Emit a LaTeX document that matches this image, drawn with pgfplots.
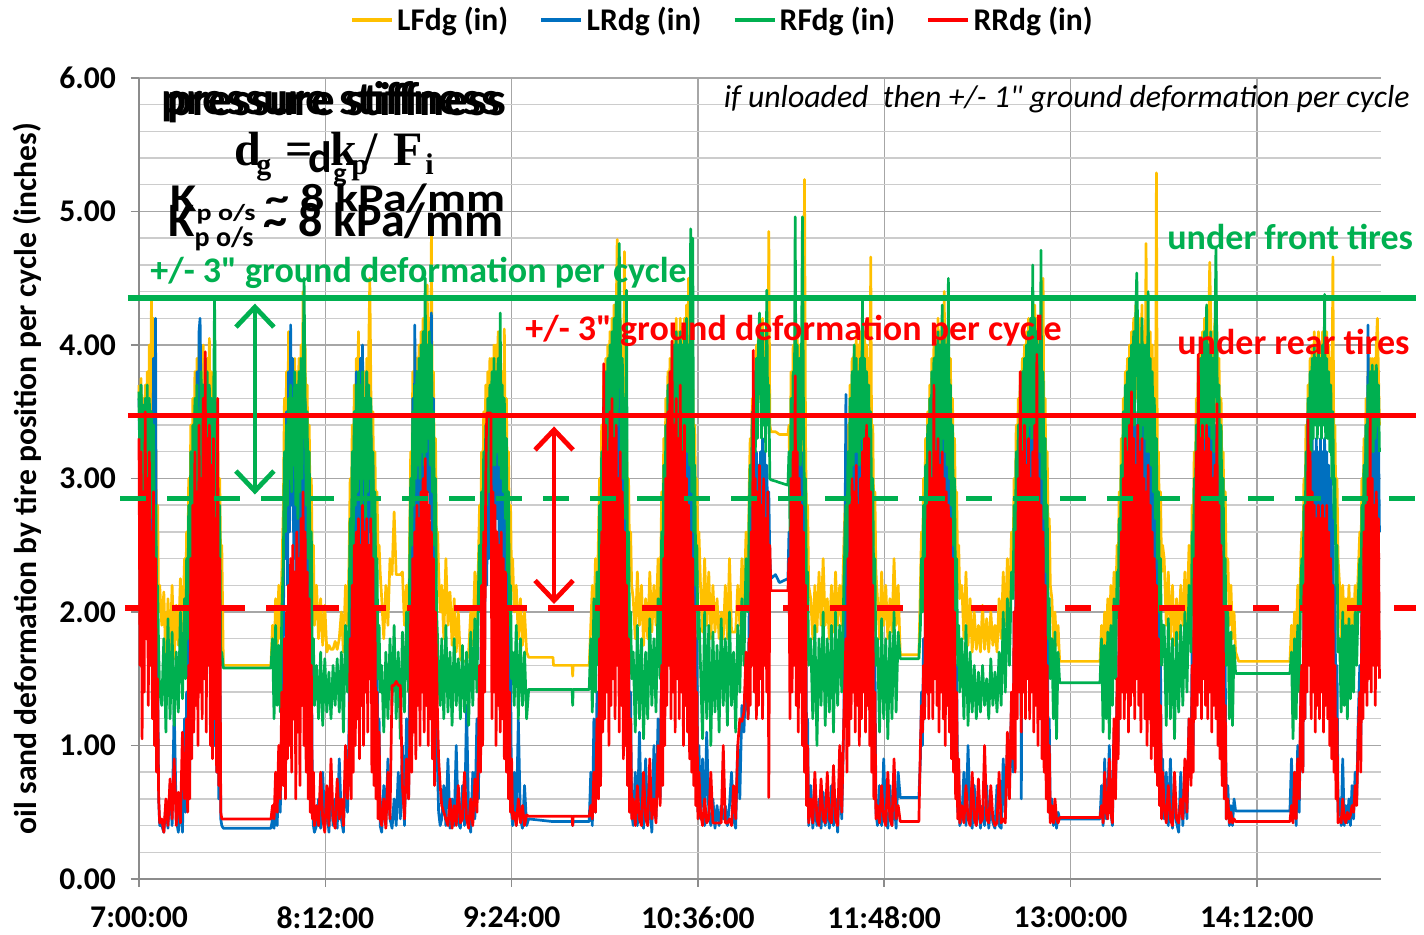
\documentclass[border=0pt]{standalone}
\usepackage{pgfplots}
\pgfplotsset{compat=1.18}
\usepackage{pgfplotstable}
\usepackage{fontspec}
\setmainfont{Carlito}[Ligatures=TeXOff]
\newfontfamily\serif{Liberation Serif}[Ligatures=TeXOff]
\usetikzlibrary{arrows.meta}

\definecolor{cLF}{HTML}{FFC000}
\definecolor{cLR}{HTML}{0070C0}
\definecolor{cRF}{HTML}{00B050}
\definecolor{cRR}{HTML}{FF0000}

% minutes after 7:00:00, ground deformation per tire (inches)
\pgfplotstableread{
t LF LR RF RR
0.0 3.70 3.60 3.65 3.30
0.4 3.10 2.90 3.00 1.60
0.8 3.75 3.70 3.70 3.20
1.2 2.90 2.40 2.80 1.05
1.6 3.60 3.50 3.55 2.90
2.0 3.00 2.60 2.70 1.40
2.4 3.70 3.40 3.60 3.50
2.8 3.20 2.80 3.10 1.80
3.2 3.80 3.60 3.70 3.00
3.6 3.10 2.50 2.90 1.30
4.0 4.00 3.30 3.60 3.20
4.4 3.00 2.40 2.80 1.60
4.8 4.35 3.50 3.50 2.60
5.2 3.20 2.00 2.70 1.20
5.6 4.20 3.90 3.40 2.90
6.0 2.80 1.80 2.40 1.00
6.4 3.60 4.20 2.80 2.40
6.8 2.40 1.20 2.00 0.80
7.2 2.80 1.60 2.20 1.50
7.6 2.00 0.60 1.70 0.60
8.0 2.20 0.40 1.40 0.42
8.8 1.90 0.40 1.30 0.45
9.6 2.15 0.35 1.80 0.35
10.4 1.60 0.55 1.10 0.60
11.2 2.10 0.38 1.95 0.40
12.0 1.70 0.70 1.20 0.75
12.8 2.20 0.40 1.85 0.45
13.6 1.65 1.30 1.15 0.90
14.4 2.05 0.45 1.70 0.40
15.2 1.75 0.35 1.25 0.65
16.0 2.25 0.60 2.00 0.42
16.8 1.80 0.35 1.35 1.10
17.6 2.40 1.20 2.10 0.60
18.0 2.00 0.50 1.50 0.70
18.4 2.60 1.40 2.40 1.20
18.8 2.20 0.60 1.80 0.50
19.2 3.00 2.00 2.80 1.60
19.6 2.40 0.80 2.00 0.60
20.0 3.40 2.60 3.20 2.40
20.4 2.60 1.00 2.20 0.90
20.8 3.60 3.00 3.40 2.80
21.2 2.80 1.40 2.40 1.10
21.6 3.80 3.50 3.60 3.20
22.0 3.00 1.60 2.60 1.30
22.4 3.90 3.80 3.70 2.90
22.8 3.10 2.00 2.80 1.00
23.2 4.00 4.10 3.50 3.40
23.6 3.20 4.20 2.90 1.40
24.0 3.90 3.60 3.80 3.00
24.4 3.00 1.80 2.60 1.20
24.8 4.00 3.70 3.70 3.60
25.2 3.20 2.00 2.90 1.50
25.6 3.80 3.90 3.60 3.95
26.0 2.90 1.60 2.50 1.10
26.4 3.90 3.60 3.80 3.30
26.8 3.10 1.80 2.70 1.60
27.2 4.05 3.50 3.70 3.40
27.6 3.00 1.40 2.60 1.00
28.0 3.80 3.40 3.60 3.10
28.4 2.90 1.20 2.40 0.90
28.8 3.70 3.20 3.50 3.30
29.2 2.80 1.00 4.35 1.20
29.6 3.60 3.00 3.40 2.70
30.0 2.70 0.80 2.30 0.80
30.4 3.40 2.60 3.20 3.60
30.8 2.50 0.60 2.00 0.70
31.2 3.00 2.00 2.80 2.40
31.6 2.30 0.45 1.60 0.50
32.0 2.50 0.40 1.70 0.45
32.6 1.60 0.38 1.58 0.45
51.0 1.60 0.38 1.58 0.45
51.6 1.90 0.45 1.80 0.55
52.2 1.60 0.38 1.20 0.45
52.8 2.10 0.60 1.90 0.80
53.4 1.70 0.40 1.30 0.50
54.0 2.20 0.80 1.75 1.00
54.6 1.80 0.50 1.25 0.60
55.2 2.30 1.20 2.00 1.40
55.8 2.80 1.80 2.40 0.70
56.2 3.60 3.00 3.20 1.80
56.6 2.90 2.40 2.60 0.60
57.0 3.80 3.50 3.40 2.00
57.4 3.00 2.20 2.80 0.90
57.8 4.10 3.80 3.60 2.20
58.2 3.20 2.60 3.00 1.00
58.6 3.90 4.15 3.70 2.40
59.0 3.10 2.80 2.90 0.80
59.4 3.80 3.90 3.60 2.50
59.8 3.30 2.40 3.10 1.20
60.2 3.90 3.60 3.80 2.30
60.6 3.20 2.10 2.80 0.60
61.0 3.80 3.40 3.70 2.60
61.4 3.00 2.00 2.70 1.10
61.8 3.90 3.70 3.80 2.40
62.2 3.10 2.30 2.90 0.70
62.6 4.00 3.80 3.90 2.70
63.0 3.20 2.50 3.00 1.30
63.4 4.40 3.90 3.80 2.90
63.8 3.30 2.40 4.50 1.00
64.2 4.00 3.60 3.60 2.60
64.6 3.10 2.00 2.80 0.80
65.0 3.70 3.30 3.50 2.30
65.4 2.90 1.60 2.40 0.60
65.8 3.40 2.80 3.20 2.10
66.2 2.60 1.10 2.00 0.50
66.6 3.00 2.00 2.60 1.60
67.0 2.30 0.60 1.60 0.45
67.4 2.50 0.40 1.80 0.80
67.8 1.90 0.35 1.30 0.40
68.6 2.20 0.40 1.60 0.55
69.4 1.80 0.60 1.20 0.40
70.2 2.10 0.38 1.70 0.80
71.0 1.75 0.80 1.15 0.45
71.8 2.05 0.40 1.65 0.35
72.6 1.70 0.55 1.25 0.70
73.4 1.75 0.35 1.55 0.40
74.2 1.72 0.70 1.20 0.90
75.0 1.72 0.40 1.60 0.45
75.8 1.78 0.60 1.30 0.38
76.6 1.72 0.38 1.65 0.75
77.4 1.80 0.90 1.25 0.45
78.2 2.00 0.45 1.70 0.60
79.0 1.70 0.35 1.10 0.40
79.8 2.20 0.80 1.90 1.00
80.6 1.90 0.50 1.40 0.60
81.2 2.40 1.20 2.00 0.90
81.6 3.00 2.20 2.70 1.80
82.0 2.50 1.00 2.20 0.60
82.4 3.40 3.00 3.20 2.20
82.8 2.80 1.60 2.50 0.80
83.2 3.70 3.50 3.50 2.50
83.6 3.00 2.00 2.80 1.00
84.0 3.90 3.80 3.70 2.60
84.4 3.10 2.40 2.90 1.20
84.8 4.10 3.70 3.80 2.70
85.2 3.20 2.60 3.00 0.90
85.6 3.80 3.90 3.70 2.50
86.0 3.00 2.20 2.80 1.30
86.4 3.90 4.00 3.80 2.80
86.8 3.20 2.50 3.00 1.00
87.2 3.80 3.60 3.60 2.60
87.6 3.00 2.10 2.70 1.40
88.0 3.90 3.80 3.80 2.70
88.4 3.10 2.30 2.90 1.10
88.8 4.00 3.50 3.70 2.50
89.2 4.50 2.60 3.00 1.50
89.6 3.70 3.40 3.60 2.70
90.0 2.90 2.00 2.60 0.80
90.4 3.50 3.10 3.20 2.40
90.8 2.70 1.60 2.30 0.70
91.2 3.20 2.60 2.90 2.00
91.6 2.50 1.00 1.90 0.60
92.0 2.90 1.80 2.40 1.40
92.4 2.40 0.60 1.50 0.45
92.8 2.50 1.20 1.90 1.10
93.2 2.30 0.40 1.40 0.45
93.8 2.10 0.35 1.60 0.40
94.6 1.80 0.70 1.10 0.60
95.4 2.20 0.40 1.70 0.38
96.2 1.90 0.90 1.20 0.80
97.0 2.40 0.45 1.80 0.45
97.8 2.28 0.38 1.30 1.45
98.6 2.75 0.60 1.90 1.45
99.4 2.28 0.40 1.20 1.48
100.2 2.28 0.80 1.70 1.45
101.0 2.28 0.45 1.05 1.45
101.8 2.30 1.00 1.85 0.70
102.6 1.90 0.40 1.25 0.45
103.4 2.20 1.20 2.00 0.90
104.2 1.90 0.60 1.40 0.60
104.6 2.60 1.60 2.30 1.00
105.0 3.20 2.80 3.00 2.00
105.4 2.80 1.40 2.50 0.80
105.8 3.80 3.60 3.50 2.40
106.2 3.00 2.20 2.80 1.10
106.6 4.00 4.15 3.70 2.60
107.0 3.20 2.60 3.00 0.90
107.4 3.90 3.80 3.80 2.80
107.8 3.30 2.40 3.10 1.30
108.2 4.00 3.60 3.90 2.70
108.6 3.20 2.70 3.00 1.00
109.0 4.10 3.90 4.00 2.90
109.4 3.40 2.60 3.20 1.40
109.8 4.20 3.80 4.10 3.00
110.2 3.30 2.80 3.10 1.10
110.6 4.10 3.70 4.50 3.15
111.0 3.40 2.50 3.20 1.30
111.4 4.45 3.90 4.00 2.90
111.8 3.50 2.90 3.30 1.00
112.2 4.20 4.00 4.10 2.80
112.6 3.40 2.70 3.10 1.20
113.0 4.83 4.24 4.00 2.60
113.4 3.20 2.40 2.90 0.90
113.8 3.80 3.60 3.50 2.40
114.2 2.90 1.80 2.50 0.70
114.6 3.30 2.80 3.00 2.00
115.0 2.50 1.00 2.00 1.60
115.4 2.60 0.80 1.80 1.20
115.8 2.30 0.50 1.50 0.90
116.4 2.00 0.40 1.30 0.70
117.0 2.20 0.45 1.80 0.55
117.8 1.80 0.70 1.20 0.50
118.6 2.40 0.40 1.90 0.45
119.4 1.90 0.90 1.25 0.40
120.2 2.15 0.38 1.70 0.60
121.0 1.75 0.60 1.15 0.38
121.8 2.10 0.40 1.80 0.55
122.6 1.70 1.00 1.30 0.40
123.4 2.00 0.42 1.65 0.70
124.2 1.65 0.38 1.20 0.42
125.0 1.63 0.70 1.75 0.45
125.8 1.63 0.40 1.25 0.80
126.6 1.63 1.30 1.70 0.45
127.4 1.70 0.45 1.15 0.38
128.2 2.00 0.35 1.85 0.60
129.0 1.75 0.80 1.30 0.40
129.8 2.30 0.45 1.95 0.75
130.6 1.90 1.20 1.40 0.50
131.2 2.40 0.60 2.20 1.00
131.6 2.80 1.60 2.50 1.60
132.0 2.40 1.00 2.00 0.80
132.4 3.20 2.40 2.90 2.20
132.8 2.60 1.40 2.30 1.00
133.2 3.50 3.00 3.20 2.60
133.6 2.90 1.80 2.60 1.40
134.0 3.70 3.20 3.40 3.00
134.4 3.00 2.20 2.80 3.49
134.8 3.80 3.40 3.60 3.49
135.2 3.10 2.40 2.90 3.49
135.6 3.90 3.50 3.70 3.49
136.0 3.20 2.60 3.00 3.49
136.4 3.90 3.60 3.80 1.20
136.8 3.30 2.50 3.10 2.90
137.2 4.00 3.70 3.90 1.40
137.6 3.30 2.60 3.10 2.80
138.0 4.00 3.60 3.80 1.00
138.4 3.40 2.70 3.20 2.60
138.8 4.10 3.80 3.90 1.30
139.2 3.40 2.50 3.10 2.50
139.6 3.90 3.70 4.24 1.10
140.0 3.20 2.40 3.00 2.60
140.4 3.80 3.50 3.70 1.20
140.8 3.10 2.20 2.90 2.40
141.2 4.12 3.40 3.60 0.90
141.6 3.00 2.00 2.70 2.30
142.0 3.60 3.10 3.30 0.80
142.4 2.80 1.60 2.30 2.00
142.8 3.20 2.60 2.90 0.60
143.2 2.50 1.00 1.90 1.40
143.6 2.80 1.60 2.20 0.50
144.0 2.20 0.50 1.50 0.90
144.4 2.40 0.40 1.70 0.45
145.0 2.00 0.80 1.30 0.50
145.8 2.20 0.40 1.90 0.40
146.6 1.80 1.20 1.20 0.60
147.4 2.10 0.45 1.80 0.42
148.2 1.75 0.38 1.30 0.55
149.0 2.00 0.70 1.70 0.40
149.8 1.70 0.40 1.20 0.48
150.6 1.66 0.45 1.42 0.47
160.0 1.66 0.43 1.42 0.47
160.2 1.60 0.43 1.42 0.47
167.4 1.60 0.43 1.42 0.47
167.6 1.52 0.40 1.30 0.40
167.8 1.60 0.43 1.42 0.47
174.0 1.60 0.43 1.42 0.47
174.6 1.90 0.80 1.80 0.55
175.2 2.20 0.40 1.25 0.45
175.8 1.80 1.20 2.10 0.80
176.4 2.40 0.50 1.40 0.50
177.0 2.00 1.40 2.30 1.20
177.6 2.60 0.70 1.60 0.60
178.0 3.00 2.00 2.80 1.80
178.4 2.60 1.20 2.30 0.70
178.8 3.40 2.80 3.20 2.60
179.2 2.90 1.60 2.60 1.10
179.6 3.80 3.20 3.60 3.86
180.0 3.10 2.00 2.80 1.20
180.4 3.90 3.40 3.80 3.40
180.8 3.20 2.20 3.00 1.40
181.2 4.00 3.50 3.90 3.20
181.6 3.30 2.40 3.10 1.00
182.0 4.10 3.60 4.00 3.50
182.4 3.40 2.50 3.20 1.30
182.8 4.20 3.70 4.10 3.60
183.2 3.50 2.60 3.30 1.50
183.6 4.30 3.50 4.20 3.30
184.0 3.60 2.40 3.30 1.20
184.4 4.20 3.80 4.35 3.40
184.8 4.79 2.60 3.40 1.60
185.2 4.10 3.60 4.00 3.00
185.6 3.50 2.50 4.76 1.10
186.0 4.20 3.70 4.10 3.20
186.4 3.40 2.30 3.20 1.30
186.8 4.00 3.40 3.90 2.90
187.2 3.20 2.00 3.00 0.90
187.6 4.70 3.10 3.60 2.60
188.0 3.00 1.80 2.70 1.00
188.4 3.40 2.60 4.41 2.20
188.8 2.70 1.20 2.20 0.70
189.2 3.00 2.00 2.60 1.80
189.6 2.40 0.80 1.80 0.50
190.0 2.60 1.40 2.00 1.20
190.4 2.20 0.50 1.50 0.45
191.0 2.10 0.40 1.70 0.60
191.8 1.80 0.80 1.10 0.40
192.6 2.30 0.40 1.90 0.70
193.4 1.90 1.10 1.20 0.45
194.2 2.20 0.45 1.80 0.40
195.0 1.75 0.38 1.05 0.80
195.8 2.10 0.90 1.70 0.45
196.6 1.80 0.40 1.20 0.40
197.4 2.30 0.60 1.95 0.90
198.2 1.85 0.35 1.30 0.45
199.0 2.20 1.00 1.80 0.60
199.8 1.90 0.45 1.25 0.42
200.6 2.40 1.20 2.10 1.00
201.4 2.00 0.60 1.50 0.55
202.0 2.90 1.80 2.60 1.60
202.4 2.50 1.00 2.20 0.70
202.8 3.30 2.60 3.10 2.40
203.2 2.80 1.40 2.50 1.00
203.6 3.60 3.00 3.40 3.00
204.0 3.00 2.00 2.80 1.30
204.4 3.80 3.40 3.70 3.50
204.8 3.20 2.40 3.00 1.60
205.2 3.90 3.60 3.80 3.80
205.6 3.30 2.60 3.10 1.20
206.0 4.00 3.70 3.90 4.03
206.4 3.40 2.40 3.20 1.40
206.8 4.10 3.80 4.00 3.40
207.2 3.50 2.60 3.30 1.10
207.6 4.20 3.70 4.10 3.60
208.0 3.50 2.50 3.30 1.50
208.4 4.10 3.90 4.00 3.30
208.8 3.40 2.40 3.20 1.20
209.2 4.20 3.80 4.10 3.70
209.6 3.50 2.60 3.30 1.40
210.0 4.10 3.70 4.00 3.20
210.4 3.40 2.40 3.20 1.00
210.8 4.20 3.60 4.10 3.40
211.2 3.60 2.50 3.40 1.30
211.6 4.30 3.80 4.20 3.00
212.0 3.50 2.30 3.20 1.10
212.4 4.50 3.60 4.00 2.80
212.8 3.40 2.20 3.10 0.90
213.2 4.20 3.40 4.87 2.60
213.6 3.20 2.00 2.90 0.80
214.0 3.80 3.20 4.80 2.40
214.4 3.00 1.60 2.60 0.70
214.8 3.40 2.60 3.10 2.00
215.2 2.70 1.00 2.20 0.55
215.6 3.00 1.80 2.50 1.40
216.0 2.40 0.50 1.80 0.45
216.4 2.60 1.00 2.00 0.80
217.0 2.20 0.45 1.60 0.50
217.8 1.85 0.90 1.05 0.40
218.6 2.40 0.40 2.00 0.60
219.4 1.90 1.10 1.20 0.42
220.2 2.30 0.50 1.90 0.45
221.0 1.80 0.40 1.00 0.80
221.8 2.20 0.60 1.85 0.42
222.6 1.85 0.38 1.25 0.42
223.4 2.10 0.55 1.75 0.42
224.2 1.80 0.40 1.10 0.42
225.0 2.00 0.55 1.95 0.42
225.8 1.80 0.45 1.30 1.00
226.6 2.20 0.55 1.80 0.42
227.4 1.80 0.40 1.15 0.42
228.2 2.40 0.55 2.00 0.45
229.0 1.85 0.80 1.30 0.40
229.8 1.85 0.45 1.70 0.70
230.6 1.85 0.38 1.10 0.45
231.4 2.20 1.00 1.90 1.00
232.2 1.90 0.60 1.40 1.20
233.0 2.40 1.30 2.10 1.18
233.8 2.00 1.10 1.60 1.25
234.6 2.60 1.60 2.40 1.70
235.4 2.30 1.20 2.00 1.20
235.8 2.90 2.00 2.70 1.80
236.2 3.30 3.00 3.10 1.30
236.6 3.00 2.40 2.80 2.60
237.0 3.60 3.10 3.50 1.60
237.4 3.20 2.50 3.00 3.96
237.8 3.90 3.00 3.80 1.40
238.2 3.40 2.60 3.20 3.00
238.6 4.00 3.20 3.90 1.20
239.0 3.50 2.70 3.30 2.90
239.4 4.10 3.10 4.00 1.30
239.8 3.60 2.80 4.24 3.10
240.2 4.10 3.20 3.90 1.50
240.6 3.50 2.70 3.30 2.80
241.0 4.20 3.30 4.10 1.20
241.4 3.60 2.80 3.40 3.00
241.8 4.10 3.20 3.90 1.60
242.2 3.50 2.60 3.20 2.70
242.6 4.00 3.10 4.41 1.40
243.0 3.60 2.70 3.40 2.90
243.4 4.85 2.90 3.70 0.61
243.8 3.40 2.40 3.00 2.50
244.2 3.35 2.25 2.99 2.16
246.0 3.35 2.28 2.98 2.16
247.5 3.33 2.22 2.97 2.16
250.8 3.33 2.25 2.95 2.16
251.2 3.40 2.60 3.20 2.40
251.6 2.90 1.80 2.60 1.20
252.0 3.80 3.20 3.60 3.00
252.4 3.20 2.20 3.00 1.40
252.8 4.00 3.40 3.80 3.20
253.2 3.40 2.40 3.20 1.60
253.6 4.20 3.50 4.96 3.77
254.0 3.50 2.50 3.30 1.30
254.4 4.10 3.40 4.00 3.20
254.8 3.40 2.30 3.20 1.10
255.2 4.00 3.30 3.90 3.00
255.6 3.30 2.20 3.10 1.40
256.0 3.90 3.20 3.80 2.80
256.4 3.20 2.00 4.96 1.00
256.8 3.70 3.00 3.50 2.60
257.2 5.24 1.60 2.80 0.80
257.6 3.30 2.40 3.00 2.20
258.0 2.60 1.00 2.10 0.55
258.4 2.80 1.20 2.30 1.00
258.8 2.20 0.40 1.60 0.42
259.6 2.10 0.70 1.80 0.60
260.4 1.80 0.38 1.20 0.42
261.2 2.20 0.55 1.90 0.80
262.0 1.85 0.40 1.00 0.45
262.8 2.30 0.60 1.80 0.40
263.6 1.90 0.38 1.30 0.75
264.4 2.40 0.65 2.00 0.45
265.2 1.90 0.40 1.15 0.42
266.0 2.10 0.55 1.80 0.80
266.8 1.80 0.38 1.25 0.45
267.6 2.20 0.70 1.90 0.42
268.4 1.85 0.40 1.10 0.85
269.2 2.30 0.60 2.00 0.45
270.0 1.90 0.35 1.30 0.40
270.8 2.20 0.80 1.90 1.00
271.6 1.90 0.45 1.40 0.50
272.4 2.50 1.20 2.20 1.20
273.2 3.00 3.63 2.80 1.80
273.6 2.60 1.60 2.40 0.80
274.0 3.40 2.80 3.20 2.40
274.4 2.90 1.80 2.70 1.00
274.8 3.70 3.20 3.60 2.80
275.2 3.10 2.20 2.90 1.20
275.6 3.90 3.40 3.80 3.00
276.0 3.30 2.40 3.10 1.40
276.4 4.00 3.50 4.00 2.90
276.8 3.40 2.60 3.20 1.10
277.2 4.10 3.40 3.90 3.10
277.6 3.40 2.50 3.20 1.30
278.0 4.00 3.30 3.80 2.80
278.4 3.30 2.40 3.10 1.00
278.8 4.10 3.40 3.90 3.00
279.2 3.40 2.60 3.30 1.20
279.6 4.00 3.30 4.33 3.20
280.0 3.30 2.40 3.10 1.40
280.4 4.10 3.50 3.90 3.30
280.8 3.40 2.50 3.20 1.10
281.2 4.00 3.40 3.80 3.40
281.6 3.30 2.30 3.00 1.30
282.0 3.90 3.20 3.70 3.30
282.4 3.20 2.10 2.90 1.00
282.8 4.66 3.00 3.50 2.90
283.2 3.00 1.80 2.60 0.80
283.6 3.40 2.60 3.00 2.20
284.0 2.60 1.00 2.00 0.60
284.4 2.90 1.80 2.40 1.40
284.8 2.30 0.50 1.60 0.45
285.4 2.10 0.40 1.80 0.55
286.2 1.80 0.70 1.10 0.42
287.0 2.30 0.40 1.95 0.70
287.8 1.90 0.90 1.20 0.45
288.6 2.20 0.45 1.80 0.40
289.4 1.80 0.38 1.05 0.80
290.2 2.10 0.70 1.85 0.45
291.0 1.85 0.40 1.20 0.40
291.8 2.40 0.60 2.00 0.90
292.6 1.90 0.38 1.25 0.45
293.4 2.20 0.80 1.85 0.55
294.2 1.68 0.61 1.65 0.43
301.4 1.68 0.61 1.65 0.43
302.0 2.20 0.90 1.90 1.00
302.4 2.60 1.40 2.40 1.30
302.8 2.30 1.00 2.00 1.10
303.2 3.00 1.80 2.80 1.60
303.6 2.60 1.20 2.30 1.20
304.0 3.30 2.40 3.10 2.40
304.4 2.90 1.60 2.60 1.40
304.8 3.50 2.80 3.40 2.80
305.2 3.00 2.00 2.80 1.20
305.6 3.70 3.00 3.60 3.20
306.0 3.20 2.20 3.00 1.40
306.4 3.90 3.30 3.80 3.00
306.8 3.30 2.40 3.10 1.20
307.2 4.00 3.40 3.90 3.70
307.6 3.40 2.60 3.20 1.50
308.0 4.10 3.50 4.00 3.20
308.4 3.50 2.70 3.30 1.30
308.8 4.20 3.60 4.10 3.30
309.2 3.50 2.60 3.30 1.10
309.6 4.10 3.40 4.00 3.10
310.0 3.40 2.50 3.20 1.40
310.4 4.20 3.50 4.30 3.20
310.8 3.50 2.60 3.30 1.20
311.2 4.40 3.60 4.10 3.00
311.6 3.40 2.40 3.20 1.00
312.0 4.10 3.40 4.00 2.90
312.4 3.30 2.30 3.10 1.30
312.8 4.00 3.30 4.50 2.80
313.2 3.30 2.20 3.00 1.10
313.6 3.90 3.10 3.70 2.70
314.0 3.10 2.00 2.80 0.90
314.4 3.60 2.80 3.40 2.40
314.8 2.90 1.60 2.50 0.80
315.2 3.30 2.40 3.00 2.00
315.6 2.60 1.00 2.00 0.60
316.0 2.90 1.60 2.40 1.40
316.4 2.30 0.50 1.60 0.45
316.8 2.50 0.80 1.90 0.90
317.2 2.10 0.40 1.40 0.42
318.0 2.20 0.45 1.80 0.55
318.8 1.80 0.80 1.20 0.42
319.6 2.30 0.40 1.90 0.70
320.4 1.75 1.00 1.15 0.45
321.2 2.10 0.45 1.70 0.40
322.0 1.70 0.38 1.25 0.80
322.8 2.00 0.70 1.60 0.45
323.6 1.72 0.40 1.20 0.40
324.4 1.90 0.60 1.55 0.75
325.2 1.70 0.38 1.25 0.42
326.0 2.05 0.55 1.60 0.45
326.8 1.72 0.40 1.30 1.00
327.6 1.95 0.70 1.50 0.45
328.4 1.70 0.38 1.20 0.42
329.2 2.00 0.55 1.65 0.70
330.0 1.75 0.42 1.30 0.45
330.8 1.90 0.38 1.55 0.40
331.6 1.70 0.70 1.25 0.42
332.4 2.10 0.40 1.70 0.80
333.2 1.80 0.38 1.30 0.42
334.0 2.30 0.90 2.00 0.45
334.8 1.90 0.45 1.40 0.42
335.6 2.40 1.00 2.10 1.10
336.4 2.00 0.70 1.60 0.60
337.2 2.60 1.30 2.30 1.40
337.8 2.40 0.80 2.10 0.90
338.2 3.00 2.00 2.80 2.00
338.6 2.60 1.20 2.30 0.80
339.0 3.40 2.80 3.20 2.60
339.4 2.90 1.60 2.60 1.20
339.8 3.60 3.00 3.40 3.00
340.2 3.10 2.00 2.80 1.40
340.6 3.80 3.20 3.70 3.80
341.0 3.20 0.60 3.00 1.10
341.4 3.90 3.30 3.80 3.20
341.8 3.40 2.40 3.20 1.40
342.2 4.00 3.40 3.90 3.40
342.6 3.50 2.60 3.30 1.20
343.0 4.10 3.50 4.00 3.10
343.4 3.50 2.50 3.30 1.50
343.8 4.20 3.40 4.10 3.30
344.2 3.60 2.60 3.40 1.20
344.6 4.10 3.50 4.20 3.00
345.0 3.50 2.40 3.30 1.40
345.4 4.20 3.40 4.60 3.20
345.8 3.60 2.50 3.40 1.10
346.2 4.30 3.60 4.20 3.40
346.6 3.60 2.60 3.40 1.30
347.0 4.20 3.50 4.10 3.93
347.4 3.50 2.40 3.30 1.00
347.8 4.10 3.30 4.00 3.00
348.2 3.40 2.30 3.20 1.20
348.6 4.00 3.40 4.71 2.80
349.0 3.30 2.20 3.00 0.90
349.4 4.50 3.20 3.80 2.60
349.8 3.10 1.80 2.70 0.80
350.2 3.60 2.80 3.30 2.20
350.6 2.80 1.20 2.30 0.60
351.0 3.20 2.20 2.80 1.60
351.4 2.50 0.70 1.80 0.50
351.8 2.70 1.20 2.10 1.00
352.2 2.20 0.45 1.50 0.42
352.8 2.10 0.60 1.80 0.55
353.4 1.80 0.40 1.20 0.42
354.0 2.00 0.55 1.85 0.60
354.6 1.75 0.38 1.05 0.45
355.2 1.90 0.50 1.70 0.42
355.8 1.63 0.45 1.47 0.46
371.4 1.63 0.45 1.47 0.46
372.0 1.90 0.70 1.80 0.55
372.6 1.70 0.40 1.10 0.42
373.2 2.00 0.90 1.75 0.80
373.8 1.75 0.45 1.20 0.50
374.4 2.10 0.60 1.85 0.45
375.0 1.80 1.00 1.05 0.90
375.6 2.20 0.50 1.90 0.50
376.2 1.85 0.40 1.30 0.42
376.8 2.30 1.10 2.10 1.20
377.4 2.00 0.70 1.50 0.60
378.0 2.50 1.40 2.30 1.50
378.4 2.20 1.00 2.00 0.90
378.8 2.90 2.00 2.70 2.00
379.2 2.50 1.40 2.30 1.20
379.6 3.30 2.60 3.10 2.60
380.0 2.80 1.80 2.60 1.40
380.4 3.60 3.00 3.50 3.00
380.8 3.10 2.20 2.90 1.20
381.2 3.80 3.20 3.70 3.30
381.6 3.30 2.40 3.10 1.40
382.0 3.90 3.40 3.80 3.20
382.4 3.40 2.50 3.20 1.10
382.8 4.00 3.50 3.90 3.40
383.2 3.50 2.60 3.30 1.30
383.6 4.10 3.60 4.00 3.65
384.0 3.60 2.70 3.40 1.40
384.4 4.20 3.50 4.10 3.30
384.8 3.60 2.60 3.40 1.20
385.2 4.30 3.40 4.20 3.10
385.6 3.60 2.50 4.54 1.50
386.0 4.20 3.50 4.10 3.40
386.4 3.50 2.60 3.30 1.30
386.8 4.20 3.40 4.00 3.20
387.2 3.50 2.50 3.30 1.10
387.6 4.30 3.50 4.20 3.30
388.0 3.60 2.60 3.40 1.40
388.4 4.10 3.40 4.00 3.00
388.8 3.50 2.40 3.30 1.20
389.2 4.76 3.30 4.00 2.90
389.6 3.40 2.30 3.20 1.00
390.0 4.20 3.40 4.40 3.10
390.4 3.40 2.40 3.20 1.20
390.8 4.10 3.30 3.90 2.80
391.2 3.30 2.20 3.10 0.90
391.6 4.00 3.20 3.80 2.60
392.0 3.20 2.00 2.90 1.00
392.4 3.90 3.00 3.60 2.40
392.8 3.00 1.80 2.70 0.80
393.2 5.29 2.60 3.30 2.20
393.6 2.80 1.40 2.40 0.70
394.0 3.20 2.20 2.90 1.80
394.4 2.60 1.00 2.00 0.55
394.8 2.90 1.60 2.40 1.30
395.2 2.30 0.50 1.60 0.45
395.6 2.50 0.90 1.90 0.80
396.2 2.40 0.45 1.90 0.55
397.0 1.90 0.80 1.15 0.42
397.8 2.30 0.40 1.95 0.70
398.6 1.80 0.90 1.20 0.45
399.4 2.20 0.38 1.80 0.40
400.2 1.75 0.60 1.05 0.80
401.0 2.10 0.42 1.85 0.45
401.8 1.80 0.35 1.25 0.42
402.6 2.20 0.80 1.90 0.60
403.4 1.90 0.40 1.30 0.45
404.2 2.30 0.70 2.00 0.90
405.0 1.90 0.45 1.40 0.50
405.8 2.50 1.20 2.20 1.20
406.6 2.10 0.80 1.70 0.70
407.0 2.80 1.80 2.60 1.60
407.4 2.40 1.00 2.20 0.80
407.8 3.20 2.60 3.00 2.40
408.2 2.80 1.60 2.60 1.20
408.6 3.60 3.00 3.40 3.20
409.0 3.10 2.00 2.80 1.30
409.4 3.90 3.20 3.80 3.93
409.8 3.30 2.40 3.10 1.40
410.2 4.00 3.30 3.90 3.30
410.6 3.40 2.50 3.20 1.20
411.0 4.10 3.40 4.00 3.40
411.4 3.50 2.60 3.30 1.50
411.8 4.20 3.50 4.10 3.20
412.2 3.60 2.60 3.40 1.30
412.6 4.20 3.40 4.30 3.40
413.0 3.60 2.50 3.40 1.20
413.4 4.10 3.50 4.00 3.30
413.8 4.62 2.60 3.40 1.40
414.2 4.20 3.40 4.10 3.20
414.6 3.50 2.50 3.30 1.10
415.0 4.10 3.30 3.90 3.00
415.4 3.40 2.40 3.20 1.30
415.8 4.20 3.40 4.00 3.10
416.2 3.50 2.30 4.73 1.20
416.6 4.10 3.30 3.90 3.56
417.0 3.30 2.20 3.10 1.00
417.4 3.90 3.10 3.70 2.80
417.8 3.10 2.00 2.80 0.90
418.2 3.60 2.80 3.40 2.50
418.6 2.90 1.60 2.50 0.70
419.0 3.20 2.40 3.00 2.00
419.4 2.60 1.00 2.00 0.60
419.8 2.90 1.60 2.40 1.30
420.2 2.30 0.45 1.60 0.45
420.8 2.40 0.70 2.00 0.60
421.4 1.90 0.40 1.20 0.42
422.0 2.20 0.55 1.85 0.50
422.6 1.80 0.40 1.15 0.42
423.2 2.00 0.60 1.75 0.45
423.8 1.70 0.51 1.54 0.43
425.0 1.63 0.51 1.54 0.43
444.8 1.63 0.51 1.54 0.43
445.4 1.90 0.90 1.70 0.55
446.0 1.70 0.45 1.05 0.42
446.6 2.00 0.80 1.80 0.80
447.2 1.75 0.40 1.20 0.45
447.8 2.20 1.00 1.90 0.90
448.4 1.90 0.50 1.40 0.60
449.0 2.40 1.40 2.20 1.40
449.4 2.60 1.60 2.40 1.60
449.8 2.30 0.80 2.00 0.80
450.2 3.00 2.20 2.80 2.20
450.6 2.60 1.20 2.40 1.20
451.0 3.40 2.80 3.20 2.80
451.4 3.00 1.80 2.70 1.40
451.8 3.70 3.50 3.60 3.44
452.2 3.20 2.20 3.00 1.60
452.6 3.90 3.40 3.80 3.20
453.0 3.40 2.40 3.20 1.20
453.4 4.00 3.30 3.90 2.90
453.8 3.50 2.50 3.30 1.40
454.2 4.10 3.20 4.00 2.80
454.6 3.60 2.40 3.40 1.10
455.0 4.00 3.30 3.90 2.70
455.4 3.50 2.50 3.30 1.30
455.8 4.10 3.20 4.00 2.80
456.2 3.60 2.40 3.40 1.20
456.6 4.00 3.30 3.90 2.70
457.0 3.50 2.40 3.30 1.40
457.4 4.10 3.20 4.00 2.80
457.8 3.60 2.50 3.40 1.10
458.2 4.00 3.30 4.38 2.70
458.6 3.50 2.40 3.30 1.30
459.0 4.10 3.20 3.90 2.80
459.4 3.50 2.30 3.30 1.20
459.8 4.00 3.10 3.80 2.60
460.2 3.40 2.20 3.20 1.00
460.6 3.90 3.00 3.70 2.40
461.0 3.30 2.00 3.00 0.90
461.4 4.66 2.80 3.50 2.20
461.8 3.10 1.60 2.70 0.80
462.2 3.40 2.20 3.00 1.60
462.6 2.70 1.00 2.20 0.60
463.0 3.00 1.60 2.50 1.20
463.4 2.40 0.50 1.70 0.42
464.0 2.20 0.60 1.80 0.45
464.6 1.80 0.40 1.25 0.42
465.2 2.20 0.90 2.00 0.60
465.8 1.90 0.40 1.30 0.45
466.4 2.10 0.55 1.90 0.42
467.0 1.80 0.42 1.20 0.50
467.6 2.20 0.60 1.95 0.45
468.2 1.85 0.40 1.35 0.48
468.8 2.10 0.70 1.90 0.55
469.4 1.90 0.45 1.40 0.50
470.0 2.20 0.80 2.00 0.70
470.6 2.00 0.60 1.60 0.55
471.2 2.30 1.20 2.10 1.10
471.8 2.60 1.60 2.40 1.40
472.2 2.30 1.00 2.00 0.80
472.6 3.00 2.20 2.80 2.00
473.0 2.60 1.40 2.40 1.20
473.4 3.30 2.80 3.10 2.60
473.8 2.90 2.00 2.70 1.40
474.2 3.60 3.40 3.40 2.80
474.6 3.10 2.40 2.90 1.30
475.0 3.80 4.15 3.70 3.00
475.4 3.30 2.60 3.10 1.50
475.8 3.90 3.60 3.80 3.47
476.2 3.40 2.70 3.20 1.40
476.6 3.90 3.50 3.85 3.00
477.0 3.40 2.60 3.20 1.60
477.4 3.90 3.40 3.80 2.80
477.8 3.50 2.70 3.30 1.30
478.2 4.00 3.50 3.85 2.90
478.6 4.20 2.80 3.40 1.60
479.0 3.80 3.40 3.70 2.70
479.4 3.40 2.60 3.20 1.50
}\deformation

\begin{document}
\begin{tikzpicture}
\useasboundingbox (0,0) rectangle (712pt,467.5pt);
\begin{axis}[
  at={(69.5pt,28pt)}, anchor=south west,
  scale only axis, width=621pt, height=400.5pt,
  xmin=0, xmax=480, ymin=0, ymax=6,
  clip=false,
  axis lines*=left,
  axis line style={draw=black!45, line width=0.8pt},
  xtick={0,72,144,216,288,360,432},
  xticklabels={7:00:00,8:12:00,9:24:00,10:36:00,11:48:00,13:00:00,14:12:00},
  ytick={0,1,...,6},
  minor y tick num=4,
  minor tick length=0pt,
  major tick length=4pt,
  tick align=outside,
  tick style={draw=black!45, line width=0.8pt},
  grid=both,
  major grid style={draw=black!35, line width=0.7pt},
  minor grid style={draw=black!20, line width=0.7pt},
  /pgf/number format/.cd, fixed, fixed zerofill, precision=2, assume math mode=true,
  /pgfplots/.cd,
  tick label style={font=\bfseries\fontsize{15.8}{18}\selectfont},
  yticklabel style={xshift=-4pt},
  xticklabel style={yshift=-6.5pt},
  ylabel={oil sand deformation by tire position per cycle (inches)},
  ylabel style={at={(rel axis cs:-0.0902,0.5)}, anchor=center, font=\bfseries\fontsize{15.8}{18}\selectfont},
  legend columns=4,
  legend style={at={(0.470,1.0724)}, anchor=center, draw=none, fill=none,
    font=\bfseries\fontsize{15.8}{18}\selectfont,
    nodes={inner xsep=1.5pt, inner ysep=1pt},
    /tikz/every even column/.append style={column sep=14pt}},
  legend image code/.code={\draw[#1, line width=2.2pt] (0pt,0pt) -- (20pt,0pt);},
  every axis plot/.append style={line width=1.35pt, line join=round},
]
\addplot[cLF] table[x=t, y=LF] {\deformation};
\addlegendentry{LFdg (in)}
\addplot[cLR] table[x=t, y=LR] {\deformation};
\addlegendentry{LRdg (in)}
\addplot[cRF] table[x=t, y=RF] {\deformation};
\addlegendentry{RFdg (in)}
\addplot[cRR] table[x=t, y=RR] {\deformation};
\addlegendentry{RRdg (in)}

% reference levels
\draw[cRF, line width=2.8pt] (axis cs:-4.3,4.35) -- (axis cs:493.5,4.35);
\draw[cRR, line width=2.6pt] (axis cs:-4.3,3.47) -- (axis cs:493.5,3.47);
\draw[cRF, line width=2.8pt, dash pattern=on 13pt off 10.5pt] (axis cs:-7.3,2.85) -- (axis cs:493.5,2.85);
\draw[cRR, line width=2.8pt, dash pattern=on 13pt off 10.5pt] (axis cs:-5.4,2.03) -- (axis cs:493.5,2.03);
% cycle ranges
\draw[cRF, line width=2.4pt, {Straight Barb[length=10pt,width=19pt]}-{Straight Barb[length=10pt,width=19pt]}] (axis cs:44.8,4.31) -- (axis cs:44.8,2.88);
\draw[cRR, line width=2.4pt, {Straight Barb[length=10pt,width=19pt]}-{Straight Barb[length=10pt,width=19pt]}] (axis cs:160.4,3.39) -- (axis cs:160.4,2.06);
\end{axis}

% annotations
\begin{scope}[every node/.style={inner sep=0pt}]
\node[anchor=base, font=\bfseries\fontsize{23.5}{26}\selectfont] at (165.25pt,410pt) {pressure stiffness};
\node[anchor=base, font=\bfseries\fontsize{23.5}{26}\selectfont] at (168.25pt,409.5pt) {pressure stiffness};

\node[anchor=base west, font=\serif\bfseries\fontsize{24}{28}\selectfont] at (117pt,384.5pt) {d};
\node[anchor=base west, font=\serif\bfseries\fontsize{15}{17}\selectfont] at (128pt,380pt) {g};
\node[anchor=base west, font=\serif\bfseries\fontsize{24}{28}\selectfont] at (142.5pt,384.5pt) {=};
\node[anchor=base west, font=\serif\bfseries\fontsize{24}{28}\selectfont] at (165pt,384.5pt) {k};
\node[anchor=base west, font=\serif\bfseries\fontsize{15}{17}\selectfont] at (175.5pt,380pt) {p};
\node[anchor=base west, font=\serif\bfseries\fontsize{24}{28}\selectfont] at (182pt,384.5pt) {/};
\node[anchor=base west, font=\serif\bfseries\fontsize{24}{28}\selectfont] at (196.5pt,384.5pt) {F};
\node[anchor=base west, font=\serif\bfseries\fontsize{15}{17}\selectfont] at (212.5pt,380pt) {i};
\node[anchor=base west, font=\bfseries\fontsize{22}{26}\selectfont] at (154pt,381pt) {d};
\node[anchor=base west, font=\bfseries\fontsize{14}{16}\selectfont] at (166.5pt,376pt) {g};

\node[anchor=base west, yscale=0.82, font=\bfseries\fontsize{24}{28}\selectfont] at (85pt,361.5pt)
  {K\raisebox{-5pt}{\fontsize{14}{16}\selectfont p o/s}\hspace{5pt}\textasciitilde\ 8 kPa/mm};
\node[anchor=base west, font=\bfseries\fontsize{24}{28}\selectfont] at (84pt,349pt)
  {K\raisebox{-5pt}{\fontsize{14}{16}\selectfont p o/s}\hspace{5pt}\textasciitilde\ 8 kPa/mm};

\node[anchor=base east, font=\itshape\fontsize{15.9}{18}\selectfont] at (705pt,413.5pt)
  {if unloaded\ \ then +/- 1" ground deformation per cycle};

\node[anchor=base west, text=cRF, font=\bfseries\fontsize{18}{21}\selectfont] at (75pt,326pt)
  {+/- 3" ground deformation per cycle};
\node[anchor=base west, text=cRR, font=\bfseries\fontsize{18}{21}\selectfont] at (262.5pt,297pt)
  {+/- 3" ground deformation per cycle};
\node[anchor=base west, text=cRF, font=\bfseries\fontsize{18}{21}\selectfont] at (583.5pt,342.5pt)
  {under front tires};
\node[anchor=base west, text=cRR, font=\bfseries\fontsize{18}{21}\selectfont] at (588.5pt,290pt)
  {under rear tires};
\end{scope}
\end{tikzpicture}
\end{document}
